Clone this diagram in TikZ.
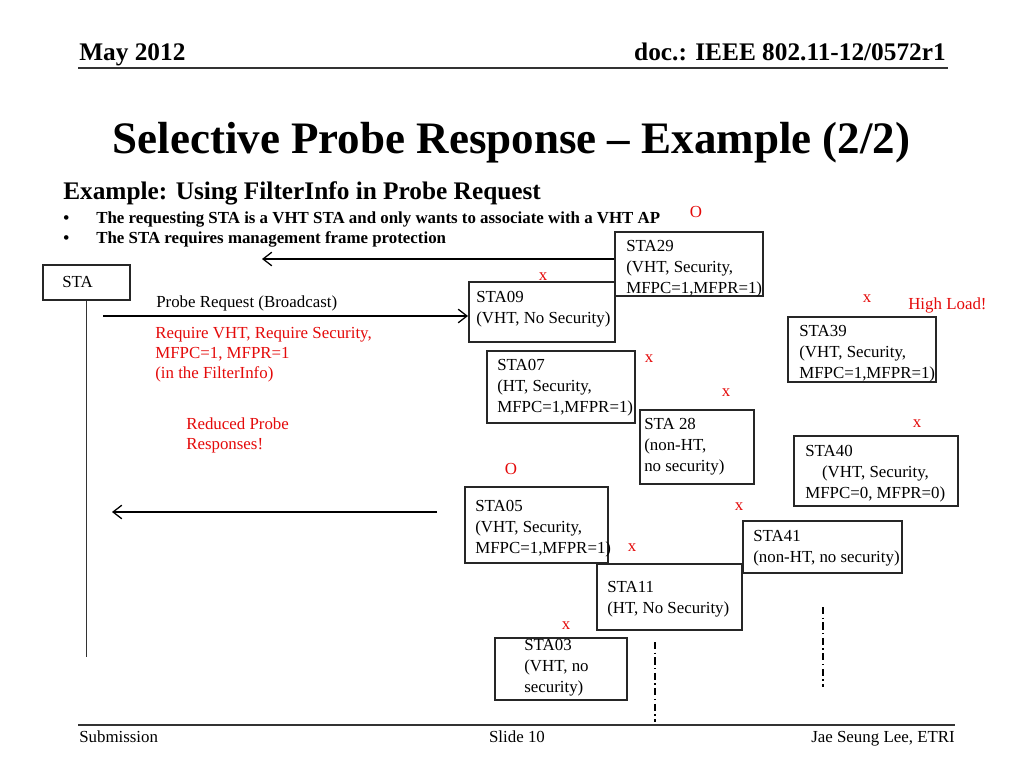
\documentclass[tikz,border=0pt]{standalone}
\usepackage{fontspec}
\setmainfont{Liberation Serif}
\usetikzlibrary{arrows.meta,positioning,calc}
\definecolor{alarm}{RGB}{228,10,10}

\tikzset{
  txt/.style={inner sep=0pt, align=left, font=\fontsize{12}{14.6}\selectfont},
  boldtxt/.style={txt, font=\fontsize{12}{14.6}\selectfont\bfseries},
  hit/.style={txt, text=alarm, anchor=center},
  staframe/.style={draw, line width=1.1pt, black!85, inner sep=0pt, anchor=north west},
  msg/.style={line width=0.9pt, -{Straight Barb[length=2.2mm,width=3.4mm]}},
  lifeline/.style={line width=1.1pt, black!80},
  rule/.style={line width=1.3pt, black!80},
  cutline/.style={line width=0.8pt, dash pattern=on 5pt off 2.5pt on 1pt off 2.5pt}
}

\begin{document}
\begin{tikzpicture}[x=0.025cm,y=-0.025cm]
\useasboundingbox (0,0) rectangle (1024,768);

% slide frame
\node[txt, anchor=base west, font=\fontsize{18}{20}\selectfont\bfseries] (date) at (79,61) {May 2012};
\node[txt, anchor=base east, font=\fontsize{18}{20}\selectfont\bfseries] (doc) at (946,61) {doc.: IEEE 802.11-12/0572r1};
\coordinate (hl) at (78,68); \coordinate (hr) at (948,68);
\draw[rule] (hl) -- (hr);
\node[txt, anchor=base, font=\fontsize{32}{36}\selectfont\bfseries] (title) at (511.5,153) {Selective Probe Response -- Example (2/2)};
\node[txt, anchor=base west, font=\fontsize{18}{20}\selectfont\bfseries] (sub) at (63,199) {Example: Using FilterInfo in Probe Request};
\node[boldtxt, anchor=base west] (b1) at (63,223) {\textbullet};
\node[boldtxt, anchor=base west] (l1) at (96,223) {The requesting STA is a VHT STA and only wants to associate with a VHT AP};
\node[boldtxt, anchor=base west] (b2) at (63,243) {\textbullet};
\node[boldtxt, anchor=base west] (l2) at (96,243) {The STA requires management frame protection};
\coordinate (fl) at (78,725); \coordinate (fr) at (955,725);
\draw[rule] (fl) -- (fr);
\node[txt, anchor=base west] (subm) at (79,742) {Submission};
\node[txt, anchor=base] (slide) at (517,742) {Slide 10};
\node[txt, anchor=base east] (auth) at (955,742) {Jae Seung Lee, ETRI};

% stations (text placed by the baseline of its last line)
\def\stas{sta/42/264/87/35/62/287/{STA},
  sta29/614/231/148/64/626/293/{STA29\\(VHT, Security,\\MFPC=1,MFPR=1)},
  sta09/468/281/146/60/476/323.5/{STA09\\(VHT, No Security)},
  sta39/787/316/148/65/799/378/{STA39\\(VHT, Security,\\MFPC=1,MFPR=1)},
  sta07/486/350/148/72/497/412/{STA07\\(HT, Security,\\MFPC=1,MFPR=1)},
  sta28/639/409/114/74/644/471/{STA 28\\(non-HT,\\no security)},
  sta40/793/435/164/70/805/498/{STA40\\\hspace*{0.42cm}(VHT, Security,\\MFPC=0, MFPR=0)},
  sta05/464/486/143/76/475/553/{STA05\\(VHT, Security,\\MFPC=1,MFPR=1)},
  sta41/742/520/159/52/753/562.5/{STA41\\(non-HT, no security)},
  sta11/596/563/145/66/607/613.5/{STA11\\(HT, No Security)},
  sta03/494/637/132/62/524/692/{STA03\\(VHT, no\\security)}}
\foreach \n/\x/\y/\w/\h/\tx/\ty/\lines in \stas {
  \node[staframe, minimum width={\w*0.025cm}, minimum height={\h*0.025cm}] (\n) at (\x,\y) {};
  \node[txt, anchor=base west] (\n txt) at (\tx,\ty) {\lines};
}

% messages
\coordinate (lifeend) at (86,657);
\draw[lifeline] (sta.south) -- (sta.south |- lifeend);
\coordinate (reqstart) at (103,316);
\draw[msg] (reqstart) -- (reqstart -| sta09.west);
\coordinate (respend) at (262,259);
\draw[msg] (sta29.west |- respend) -- (respend);
\coordinate (fwdstart) at (437,512);
\coordinate (fwdend) at (112,512);
\draw[msg] (fwdstart) -- (fwdend);
\node[txt, anchor=base west] (req) at (156,307) {Probe Request (Broadcast)};
\node[txt, anchor=base west, text=alarm, font=\fontsize{12}{14.2}\selectfont] (filter) at (155,378) {Require VHT, Require Security,\\MFPC=1, MFPR=1\\(in the FilterInfo)};
\node[txt, anchor=base west, text=alarm, font=\fontsize{12}{14.2}\selectfont] (reduced) at (186,449) {Reduced Probe\\Responses!};
\node[txt, anchor=base west, text=alarm] (load) at (908,309) {High Load!};

% marks
\foreach \i/\x/\y/\m in {1/696/212/O,2/543/277/x,3/867/299/x,4/649/359/x,5/726/393/x,
  6/917/424/x,7/511/469/O,8/739/507/x,9/632/548/x,10/566/626/x}
  \node[hit] (m\i) at (\x,\y) {\m};

% other stations
\coordinate (c1a) at (655,642); \coordinate (c1b) at (655,722);
\draw[cutline] (c1a) -- (c1b);
\coordinate (c2a) at (823,607); \coordinate (c2b) at (823,687);
\draw[cutline] (c2a) -- (c2b);

\end{tikzpicture}
\end{document}
